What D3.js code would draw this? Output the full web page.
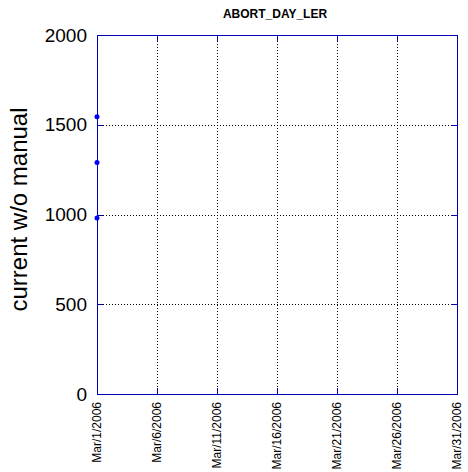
<!DOCTYPE html>
<html>
<head>
<meta charset="utf-8">
<style>
body { margin: 0; background: #fff; }
text { font-family: Arial, "Liberation Sans", sans-serif; }
.grid line { stroke: #000; stroke-dasharray: 1,2; shape-rendering: crispEdges; }
.axis path, .axis line { stroke: #0000b4; shape-rendering: crispEdges; }
</style>
</head>
<body>
<svg width="468" height="472"></svg>
<script src="https://d3js.org/d3.v7.min.js"></script>
<script>
var title = "ABORT_DAY_LER";
var yTitle = "current w/o manual";
var dates = ["2006-03-01", "2006-03-01", "2006-03-01"];
var values = [1545, 1290, 980];
var xTicks = ["2006-03-01", "2006-03-06", "2006-03-11", "2006-03-16", "2006-03-21", "2006-03-26", "2006-03-31"];
var yTicks = [0, 500, 1000, 1500, 2000];

var parse = d3.utcParse("%Y-%m-%d");
var svg = d3.select("svg");
var pLeft = 97, pRight = 457, pTop = 35, pBottom = 394;

var x = d3.scaleUtc()
    .domain([parse("2006-03-01"), parse("2006-03-31")])
    .range([pLeft, pRight]);
var y = d3.scaleLinear().domain([0, 2000]).range([pBottom, pTop]);

var fmt = function(d) { return "Mar/" + d.getUTCDate() + "/" + d.getUTCFullYear(); };
var xt = xTicks.map(parse);

// grid
var grid = svg.append("g").attr("class", "grid");
grid.selectAll(".gx").data(xt.slice(1, -1)).enter().append("line")
    .attr("x1", function(d) { return Math.round(x(d)) + 0.5; })
    .attr("x2", function(d) { return Math.round(x(d)) + 0.5; })
    .attr("y1", pTop).attr("y2", pBottom);
grid.selectAll(".gy").data(yTicks.slice(1, -1)).enter().append("line")
    .attr("y1", function(d) { return Math.round(y(d)) + 0.5; })
    .attr("y2", function(d) { return Math.round(y(d)) + 0.5; })
    .attr("x1", pLeft).attr("x2", pRight);

// frame with inward ticks
svg.append("g").attr("class", "axis")
    .attr("transform", "translate(0," + pBottom + ")")
    .call(d3.axisTop(x).tickValues(xt).tickSize(6).tickSizeOuter(0).tickFormat(""));
svg.append("g").attr("class", "axis")
    .attr("transform", "translate(0," + pTop + ")")
    .call(d3.axisBottom(x).tickValues(xt).tickSize(6).tickSizeOuter(0).tickFormat(""));
svg.append("g").attr("class", "axis")
    .attr("transform", "translate(" + pLeft + ",0)")
    .call(d3.axisRight(y).tickValues(yTicks).tickSize(6).tickSizeOuter(0).tickFormat(""));
svg.append("g").attr("class", "axis")
    .attr("transform", "translate(" + pRight + ",0)")
    .call(d3.axisLeft(y).tickValues(yTicks).tickSize(6).tickSizeOuter(0).tickFormat(""));

// y labels
svg.append("g").selectAll("text").data(yTicks).enter().append("text")
    .attr("x", pLeft - 10)
    .attr("y", function(d) { return y(d); })
    .attr("dy", "0.35em")
    .attr("text-anchor", "end")
    .attr("font-size", 19)
    .text(function(d) { return d; });

// x labels
svg.append("g").selectAll("text").data(xt).enter().append("text")
    .attr("transform", function(d) { return "translate(" + (x(d) + 4) + "," + (pBottom + 8) + ") rotate(-90)"; })
    .attr("text-anchor", "end")
    .attr("font-size", 12)
    .text(fmt);

// titles
svg.append("text")
    .attr("x", 275).attr("y", 18)
    .attr("text-anchor", "middle")
    .attr("font-size", 12)
    .attr("font-weight", "bold")
    .text(title);
svg.append("text")
    .attr("transform", "translate(27," + ((pTop + pBottom) / 2 - 5) + ") rotate(-90)")
    .attr("text-anchor", "middle")
    .attr("font-size", 24)
    .text(yTitle);

// points
svg.append("g").selectAll("circle").data(values).enter().append("circle")
    .attr("cx", function(d, i) { return x(parse(dates[i])); })
    .attr("cy", function(d) { return y(d); })
    .attr("r", 2.5)
    .attr("fill", "#0000ff");
</script>
</body>
</html>
